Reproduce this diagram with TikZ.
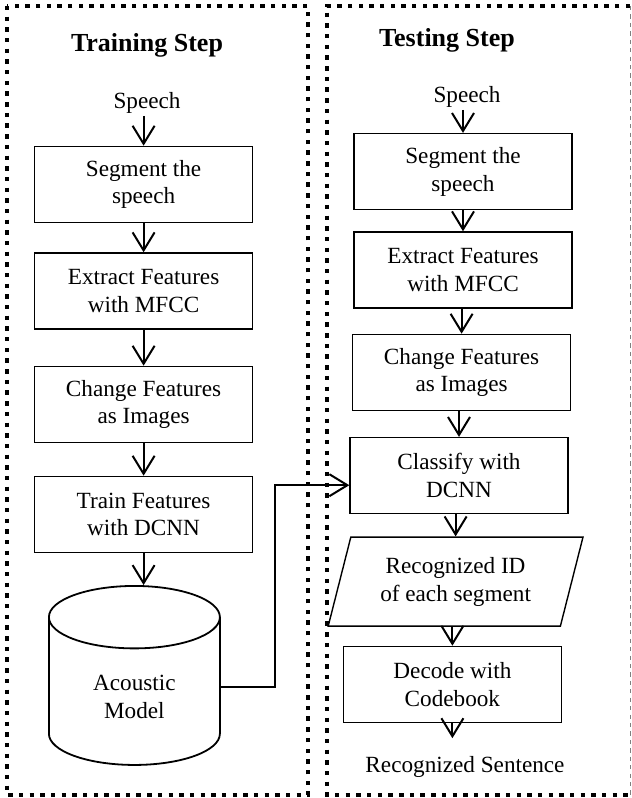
\documentclass[tikz,border=0pt]{standalone}
\usepackage{fontspec}
\setmainfont{Liberation Serif}
\usetikzlibrary{positioning}
\usetikzlibrary{calc}
\usetikzlibrary{shapes.geometric}
\usetikzlibrary{arrows.meta}
\tikzset{
    % Open V heads, as in the original chart
    >={Straight Barb[length=4.5mm,width=5.5mm]},
%
    % Thick square dots round each step
    step frame/.style={line width=1.1mm, dash pattern=on 1.1mm off 1.57mm},
%
    % A plain process box
    process box/.style={
        draw, line width=0.35mm, align=center,
        minimum width=54.5mm, minimum height=19mm},
%
    % Output of the classifier
    id box/.style={
        draw, line width=0.35mm, align=center, trapezium,
        trapezium left angle=73.5, trapezium right angle=106.5,
        trapezium stretches=true,
        minimum width=63.75mm, minimum height=22.25mm},
%
    % The stored model
    model store/.style={
        draw, line width=0.45mm, cylinder, shape border rotate=90,
        aspect=0.68, align=center,
        minimum width=42.75mm, minimum height=44.75mm},
%
    % Bare text at either end of a chain
    end text/.style={inner sep=0.5mm},
    step title/.style={font=\fontsize{18.5}{22}\selectfont\bfseries},
    flow/.style={->, line width=0.5mm}}

\begin{document}
\begin{tikzpicture}[font=\fontsize{16.5}{19.8}\selectfont]

\useasboundingbox (0,0) rectangle (158mm,-199.5mm);

% Frames

\path [draw, step frame] (1.75mm,-1.5mm) rectangle (77mm,-198.75mm);
\path [draw, step frame]
    (157.5mm,-1.5mm) -- (81.75mm,-1.5mm) -- (81.75mm,-198.75mm) -- (157.5mm,-198.75mm);
\path [draw, gray, thin, dashed] (157.6mm,-1.5mm) -- (157.6mm,-198.75mm);

% Training step

\node [step title] (train title) at (36.75mm,-11.25mm) {Training Step};
\node [end text] (sp1) at (36.75mm,-25.75mm) {Speech};
\node [process box] (seg1) at (35.9mm,-46.1mm) {Segment the\\speech};
\node [process box] (ext1) at (35.9mm,-72.75mm) {Extract Features\\with MFCC};
\node [process box] (chg1) at (35.9mm,-101.1mm) {Change Features\\as Images};
\node [process box] (trn1) at (35.9mm,-128.6mm) {Train Features\\with DCNN};
\node [model store] (am) at (33.6mm,-174.15mm) {Acoustic\\Model};

\draw [flow] (seg1.north |- sp1.south) -- (seg1.north);
\foreach \a/\b in {seg1/ext1, ext1/chg1, chg1/trn1, trn1/am}
    \draw [flow] (\a.south) -- (\a.south |- \b.north);

% Testing step

\node [step title] (test title) at (111.75mm,-10mm) {Testing Step};
\node [end text] (sp2) at (116.75mm,-24.25mm) {Speech};
\node [process box] (seg2) at (115.75mm,-42.9mm) {Segment the\\speech};
\node [process box] (ext2) at (115.75mm,-67.5mm) {Extract Features\\with MFCC};
\node [process box] (chg2) at (115.4mm,-93.1mm) {Change Features\\as Images};
\node [process box] (cls) at (114.75mm,-118.9mm) {Classify with\\DCNN};
\node [id box] (rid) at (113.9mm,-145.4mm) {Recognized ID\\of each segment};
\node [process box] (dec) at (113.1mm,-171.1mm) {Decode with\\Codebook};
\node [end text] (rs) at (116.25mm,-191.75mm) {Recognized Sentence};

\foreach \a/\b in {sp2/seg2, seg2/ext2, ext2/chg2, chg2/cls, cls/rid, rid/dec}
    \draw [flow] (\b.north |- \a.south) -- (\b.north);
\draw [flow] (dec.south) -- ([yshift=4mm]dec.south |- rs.north);

% Model used by the classifier

\draw [flow] ([yshift=2.35mm]am.east) -- ++(13.5mm,0) |- ([yshift=-2.4mm]cls.west);

\end{tikzpicture}
\end{document}
